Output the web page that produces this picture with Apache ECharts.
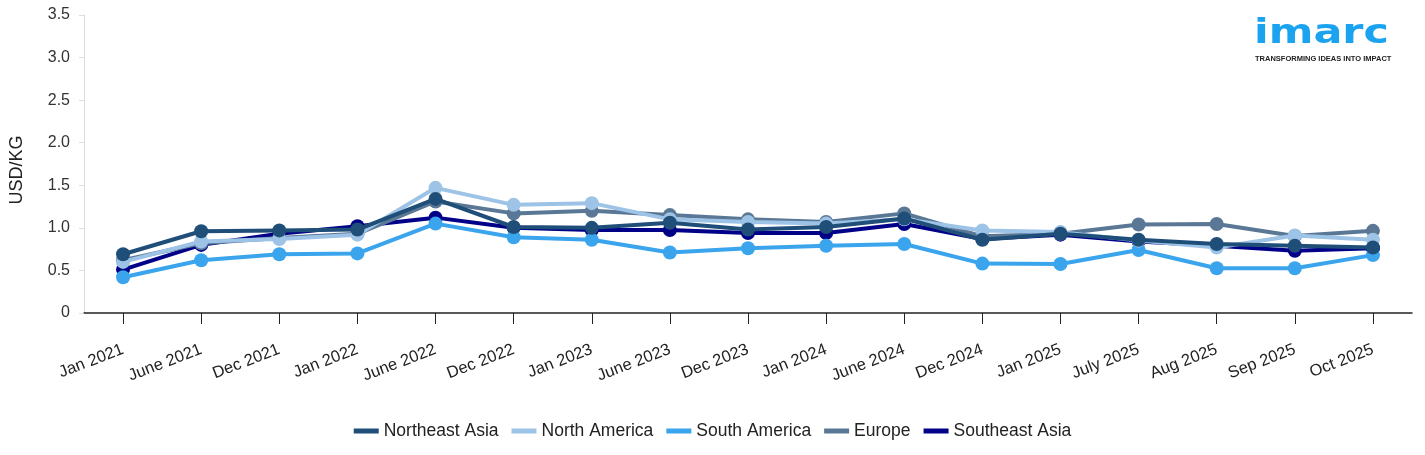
<!DOCTYPE html>
<html>
<head>
<meta charset="utf-8">
<script src="https://cdn.jsdelivr.net/npm/echarts@6/dist/echarts.min.js"></script>
<style>
html,body{margin:0;padding:0;background:#fff;}
#chart{width:1425px;height:455px;}
</style>
</head>
<body>
<div id="chart"></div>
<script>
const categories = ['Jan 2021','June 2021','Dec 2021','Jan 2022','June 2022','Dec 2022','Jan 2023','June 2023','Dec 2023','Jan 2024','June 2024','Dec 2024','Jan 2025','July 2025','Aug 2025','Sep 2025','Oct 2025'];
const northeastAsia = [0.69,0.96,0.97,0.98,1.34,1.01,1.00,1.06,0.98,1.01,1.11,0.86,0.93,0.86,0.81,0.79,0.77];
const northAmerica  = [0.60,0.84,0.87,0.92,1.47,1.27,1.29,1.10,1.07,1.05,1.10,0.97,0.95,0.85,0.77,0.91,0.86];
const southAmerica  = [0.42,0.62,0.69,0.70,1.05,0.89,0.86,0.71,0.76,0.79,0.81,0.58,0.575,0.74,0.525,0.525,0.68];
const europe        = [0.62,0.82,0.88,0.93,1.31,1.17,1.20,1.15,1.10,1.07,1.17,0.90,0.93,1.04,1.045,0.905,0.965];
const southeastAsia = [0.51,0.80,0.93,1.02,1.12,1.00,0.975,0.975,0.94,0.94,1.045,0.87,0.92,0.84,0.79,0.73,0.76];
const yTicks = [0,0.5,1.0,1.5,2.0,2.5,3.0,3.5];

const seriesDefs = [
  {name:'Southeast Asia', data:southeastAsia, color:'#000088', z:2},
  {name:'South America', data:southAmerica, color:'#3aa5ec', z:3},
  {name:'Europe', data:europe, color:'#5a7896', z:4},
  {name:'North America', data:northAmerica, color:'#9dc3e6', z:5},
  {name:'Northeast Asia', data:northeastAsia, color:'#1f4e79', z:6}
];

const chart = echarts.init(document.getElementById('chart'));
chart.setOption({
  animation:false,
  textStyle:{fontFamily:'Liberation Sans, Arial, sans-serif'},
  grid:{left:82,right:13,top:15,bottom:142},
  legend:{
    data:['Northeast Asia','North America','South America','Europe','Southeast Asia'],
    bottom:10,left:'center',
    icon:'rect',itemWidth:25,itemHeight:5,itemGap:13,
    textStyle:{fontSize:17.5,color:'#222'}
  },
  xAxis:{
    type:'category',data:categories,boundaryGap:true,
    axisLine:{lineStyle:{color:'#222',width:1.5}},
    axisTick:{show:true,alignWithLabel:true,length:11,lineStyle:{color:'#222'}},
    axisLabel:{rotate:21,fontSize:16.5,color:'#222',margin:36,interval:0}
  },
  yAxis:{
    type:'value',min:0,max:3.5,interval:0.5,
    name:'USD/KG',nameLocation:'middle',nameGap:58,nameRotate:90,
    nameTextStyle:{fontSize:18,color:'#222',padding:[0,0,0,-12]},
    axisLine:{show:true,lineStyle:{color:'#ddd'}},
    axisTick:{show:true,length:5,lineStyle:{color:'#ddd'}},
    splitLine:{show:false},
    axisLabel:{fontSize:16,color:'#333',margin:14,formatter:function(v){return v===0?'0':v.toFixed(1);}}
  },
  graphic:[
    {type:'text',x:1254,y:18,scaleX:1.3,style:{text:'imarc',font:'bold 33px DejaVu Sans, sans-serif',fill:'#1ba3f0'}},
    {type:'text',left:1255,top:55,style:{text:'TRANSFORMING IDEAS INTO IMPACT',font:'bold 7.5px Liberation Sans, Arial, sans-serif',fill:'#222'}}
  ],
  series:seriesDefs.map(s=>({
    name:s.name,type:'line',data:s.data,z:s.z,
    symbol:'circle',symbolSize:14,
    lineStyle:{width:4,color:s.color},
    itemStyle:{color:s.color}
  }))
});
</script>
</body>
</html>
